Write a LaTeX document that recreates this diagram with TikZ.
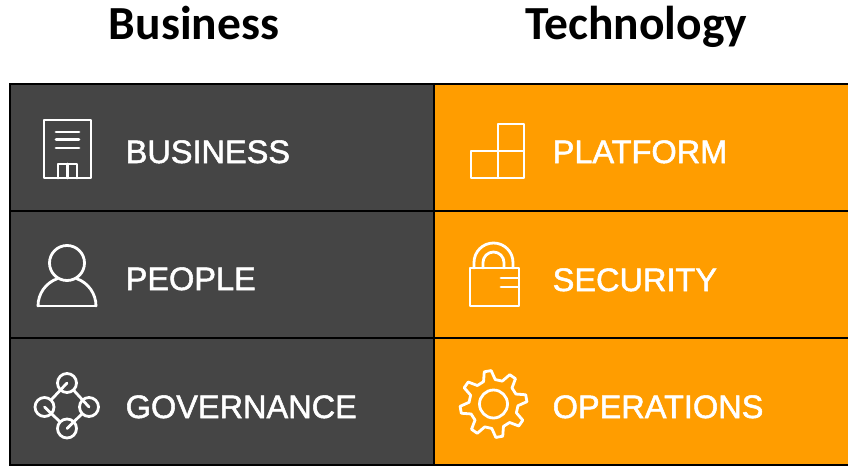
\documentclass[tikz,border=0pt]{standalone}
\usepackage{fontspec}
\newfontfamily\labelfont{Liberation Sans}[FakeBold=1.6]
\newfontfamily\titlefont{Carlito}
\definecolor{darkcell}{HTML}{454545}
\definecolor{orangecell}{HTML}{FF9D00}
\tikzset{
  title/.style={font=\titlefont\fontsize{47.5}{47.5}\selectfont\bfseries, anchor=base},
  cell/.style={draw=black, line width=1.2pt},
  label/.style={font=\labelfont\fontsize{32.5}{32.5}\selectfont, text=white, anchor=base west, inner sep=0pt},
  icon/.style={draw=white, line width=2.8pt, line join=round, line cap=round}
}

\begin{document}
\begin{tikzpicture}[x=1pt, y=-1pt]
    \useasboundingbox (0,0) rectangle (848,466);
    % cells
    \filldraw [cell, fill=darkcell] (10,84) rectangle (434,211);
    \filldraw [cell, fill=darkcell] (10,211) rectangle (434,338);
    \filldraw [cell, fill=darkcell] (10,338) rectangle (434,465);
    \filldraw [cell, fill=orangecell] (434,84) rectangle (850,211);
    \filldraw [cell, fill=orangecell] (434,211) rectangle (850,338);
    \filldraw [cell, fill=orangecell] (434,338) rectangle (850,465);
    % titles
    \node [title] (business) at (194,39) {Business};
    \node [title] (technology) at (636,39) {Technology};
    % labels
    \node [label] (lbusiness) at (125.5,163) {BUSINESS};
    \node [label] (lpeople) at (125.5,290) {PEOPLE};
    \node [label] (lgovernance) at (125.5,418) {GOVERNANCE};
    \node [label] (lplatform) at (552.5,163) {PLATFORM};
    \node [label] (lsecurity) at (552.5,291) {SECURITY};
    \node [label] (loperations) at (552.5,418) {OPERATIONS};
    % building
    \draw [icon] (44,120) rectangle (91,178);
    \draw [icon] (56,132) -- (79,132);
    \draw [icon] (56,139.5) -- (79,139.5);
    \draw [icon] (56,148) -- (79,148);
    \draw [icon] (58,178) -- (58,164) -- (77,164) -- (77,178);
    \draw [icon] (67.5,164) -- (67.5,178);
    % person
    \draw [icon] (67,263) circle (17.5);
    \draw [icon] (38,306) -- (96,306);
    \draw [icon] (38,306) arc [start angle=180, end angle=250, radius=29];
    \draw [icon] (96,306) arc [start angle=360, end angle=290, radius=29];
    % network
    \coordinate (gt) at (67,383);
    \coordinate (gl) at (44.5,407);
    \coordinate (gb) at (67,428.5);
    \coordinate (gr) at (89,407);
    \foreach \c in {gt,gl,gb,gr}
      \draw [icon] (\c) circle (9.5);
    \foreach \a/\b in {gt/gl,gl/gb,gb/gr,gr/gt}
      \draw [icon, shorten >=9.5pt] (\a) -- (\b);
    % blocks
    \draw [icon] (471,151) rectangle (498,178);
    \draw [icon] (498,151) rectangle (524,178);
    \draw [icon] (498,124) rectangle (524,151);
    % lock
    \draw [icon] (470,268) rectangle (519,306);
    \draw [icon] (474,268) -- (474,262.5) arc [start angle=180, end angle=360, radius=19.5] -- (513,268);
    \draw [icon] (483,268) -- (483,262.5) arc [start angle=180, end angle=360, radius=10.5] -- (504,268);
    \draw [icon] (501,278) -- (518,278);
    \draw [icon] (501,287) -- (518,287);
    % gear
    \draw [icon] (493.5,404) circle (14);
    \draw [icon, shift={(493.5,404)}] (-10+14:24.5)
      \foreach \t in {-10,-55,-100,-145,-190,-235,-280,-325} {
        -- (\t+14:24.5) -- (\t+6:33.5) -- (\t-6:33.5) -- (\t-14:24.5)
      } -- cycle;
  \end{tikzpicture}
\end{document}
